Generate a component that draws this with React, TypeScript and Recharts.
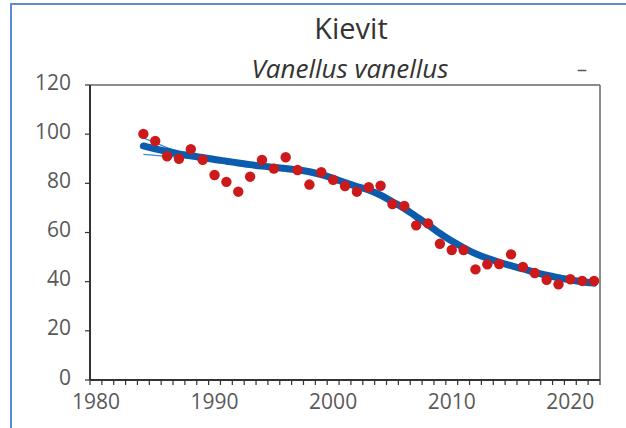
import React from "react";
import {
  ComposedChart,
  Line,
  Scatter,
  XAxis,
  YAxis,
  ReferenceLine,
} from "recharts";

const years = [
  1984, 1985, 1986, 1987, 1988, 1989, 1990, 1991, 1992, 1993, 1994, 1995, 1996,
  1997, 1998, 1999, 2000, 2001, 2002, 2003, 2004, 2005, 2006, 2007, 2008, 2009,
  2010, 2011, 2012, 2013, 2014, 2015, 2016, 2017, 2018, 2019, 2020, 2021, 2022,
];

const indexValues = [
  100.1, 97.2, 91.0, 90.0, 93.9, 89.6, 83.4, 80.6, 76.6, 82.7, 89.5, 86.0, 90.6,
  85.4, 79.5, 84.5, 81.4, 78.9, 76.6, 78.4, 79.0, 71.6, 70.8, 62.9, 63.7, 55.4,
  52.9, 52.9, 45.0, 47.1, 47.2, 51.1, 46.0, 43.5, 40.8, 38.9, 41.0, 40.3, 40.3,
];

const trendValues = [
  95.2, 94.0, 93.0, 92.0, 91.2, 90.5, 89.7, 89.0, 88.3, 87.6, 87.0, 86.5, 86.0,
  85.5, 84.7, 83.5, 82.0, 80.3, 78.7, 77.3, 75.2, 72.5, 69.8, 66.5, 63.2, 59.6,
  56.5, 53.8, 51.4, 49.5, 47.9, 46.5, 45.2, 43.8, 42.6, 41.6, 40.7, 40.0, 39.4,
];

const upperValues = [
  98.5, 96.5, 94.5, 92.8, 91.7, 90.9, 90.1, 89.4, 88.7, 88.0, 87.4, 86.9, 86.4,
  85.9, 85.1, 83.9, 82.4, 80.7, 79.1, 77.7, 75.6, 72.9, 70.2, 66.9, 63.6, 60.0,
  56.9, 54.2, 51.8, 49.9, 48.3, 46.9, 45.6, 44.2, 43.0, 42.0, 41.1, 40.4, 39.8,
];

const lowerValues = [
  91.8, 91.4, 91.0, 90.6, 90.1, 89.7, 89.2, 88.6, 87.9, 87.2, 86.6, 86.1, 85.6,
  85.1, 84.3, 83.1, 81.6, 79.9, 78.3, 76.9, 74.8, 72.1, 69.4, 66.1, 62.8, 59.2,
  56.1, 53.4, 51.0, 49.1, 47.5, 46.1, 44.8, 43.4, 42.2, 41.2, 40.3, 39.6, 39.0,
];

const yTicks = [0, 20, 40, 60, 80, 100, 120];
const xTicks = Array.from({ length: 44 }, (_, i) => 1980 + i);
const xLabelYears = [1980, 1990, 2000, 2010, 2020];

const title = "Kievit";
const subtitle = "Vanellus vanellus";
const trendSymbol = "–";

const data = years.map((y, i) => ({
  x: y + 0.5,
  idx: indexValues[i],
  trend: trendValues[i],
  upper: upperValues[i],
  lower: lowerValues[i],
}));

const W = 626;
const H = 428;
const PLOT_LEFT = 90;
const PLOT_RIGHT = 600;
const HALF_YEAR = (PLOT_RIGHT - PLOT_LEFT) / 43 / 2;
const FONT = "'Open Sans', sans-serif";
const LABEL_COLOR = "#595959";

const XTick = (props: any) => {
  const { x, y, payload } = props;
  if (!xLabelYears.includes(payload.value)) return null;
  return (
    <text
      x={x + HALF_YEAR}
      y={y + 22}
      textAnchor="middle"
      fontSize={21}
      fontFamily={FONT}
      fill={LABEL_COLOR}
    >
      {payload.value}
    </text>
  );
};

const YTick = (props: any) => {
  const { x, y, payload } = props;
  return (
    <text
      x={x - 12}
      y={y + 4.5}
      textAnchor="end"
      fontSize={21}
      fontFamily={FONT}
      fill={LABEL_COLOR}
    >
      {payload.value}
    </text>
  );
};

export default function App() {
  return (
    <div style={{ position: "absolute", left: 0, top: 0, width: W, height: H, background: "#fff" }}>
      <ComposedChart
        width={W}
        height={H}
        data={data}
        margin={{ top: 85, right: W - PLOT_RIGHT, bottom: 0, left: 0 }}
      >
        <XAxis
          dataKey="x"
          type="number"
          domain={[1980, 2023]}
          ticks={xTicks}
          interval={0}
          allowDataOverflow
          height={48}
          axisLine={{ stroke: "#333", strokeWidth: 2 }}
          tickLine={{ stroke: "#333", strokeWidth: 1.2 }}
          tickSize={5}
          tick={<XTick />}
        />
        <YAxis
          type="number"
          domain={[0, 120]}
          ticks={yTicks}
          interval={0}
          width={PLOT_LEFT}
          axisLine={{ stroke: "#333", strokeWidth: 2 }}
          tickLine={{ stroke: "#333", strokeWidth: 1.2 }}
          tickSize={5}
          tick={<YTick />}
        />
        <ReferenceLine y={120} stroke="#666" strokeWidth={1.5} />
        <ReferenceLine x={2023} stroke="#666" strokeWidth={1.5} />
        <Line
          dataKey="upper"
          type="monotone"
          stroke="#3f8ad6"
          strokeWidth={1.3}
          dot={false}
          isAnimationActive={false}
        />
        <Line
          dataKey="lower"
          type="monotone"
          stroke="#3f8ad6"
          strokeWidth={1.3}
          dot={false}
          isAnimationActive={false}
        />
        <Line
          dataKey="trend"
          type="monotone"
          stroke="#0b5cad"
          strokeWidth={7}
          strokeLinecap="round"
          dot={false}
          isAnimationActive={false}
        />
        <Scatter
          dataKey="idx"
          fill="#cc1a1a"
          shape={(p: any) => <circle cx={p.cx} cy={p.cy} r={5.2} fill="#cc1a1a" />}
          isAnimationActive={false}
        />
      </ComposedChart>
      <svg
        width={W}
        height={H}
        style={{ position: "absolute", left: 0, top: 0, pointerEvents: "none" }}
      >
        <line x1={11} y1={4} x2={11} y2={H} stroke="#5b8bd3" strokeWidth={2} />
        <line x1={10} y1={4} x2={W} y2={4} stroke="#5b8bd3" strokeWidth={2} />
        <text x={351} y={39} textAnchor="middle" fontSize={29} fontFamily={FONT} fill="#333">
          {title}
        </text>
        <text
          x={350}
          y={78}
          textAnchor="middle"
          fontSize={26}
          fontStyle="italic"
          fontFamily={FONT}
          fill="#333"
        >
          {subtitle}
        </text>
        <text x={582} y={76} textAnchor="middle" fontSize={20} fontFamily={FONT} fill="#555">
          {trendSymbol}
        </text>
      </svg>
    </div>
  );
}
